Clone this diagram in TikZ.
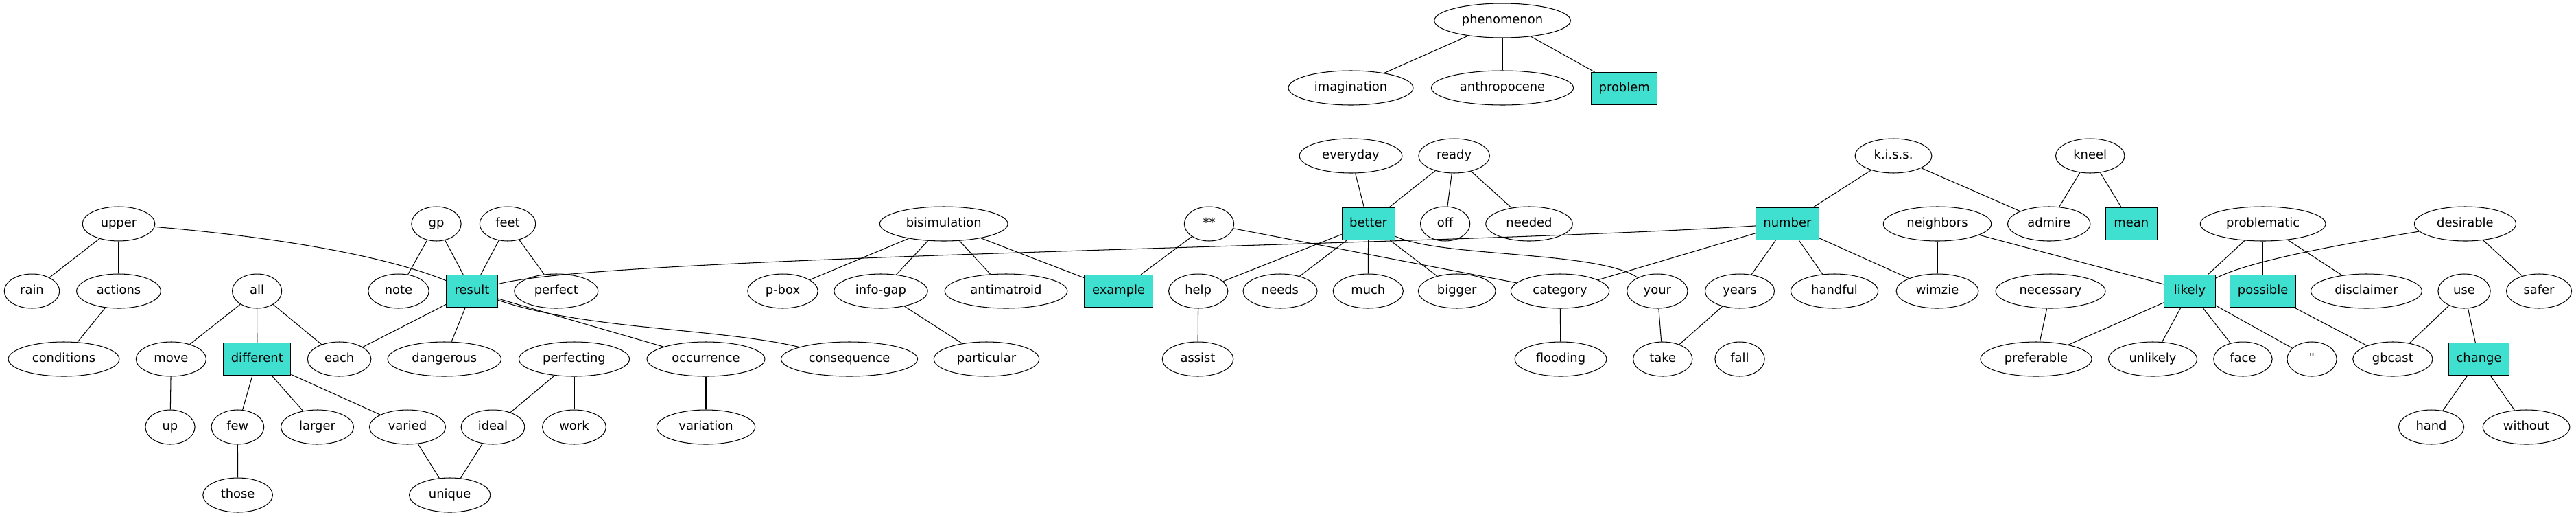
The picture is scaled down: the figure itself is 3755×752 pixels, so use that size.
\documentclass[tikz,border=0pt]{standalone}
\usepackage{fontspec}
\setmainfont{DejaVu Sans}
\usetikzlibrary{shapes.geometric}
\definecolor{keyfill}{HTML}{40E0D0}
\begin{document}
\begin{tikzpicture}[x=0.72pt, y=-0.72pt, line width=0.75pt,
    word/.style={draw, ellipse, inner xsep=8pt, inner ysep=4pt, minimum width=52pt, minimum height=36pt,
      font=\fontsize{12.9}{15}\selectfont, text height=9.4pt, text depth=2.4pt},
    keyword/.style={draw, rectangle, fill=keyfill, inner xsep=8pt, inner ysep=4pt, minimum width=54pt, minimum height=34pt,
      font=\fontsize{12.9}{15}\selectfont, text height=9.4pt, text depth=2.4pt}]
          \useasboundingbox (0,0) rectangle (3755,752);

          % rank 0 to 2
          \node[word] at (2190,30) (phenomenon) {phenomenon};
          \node[word] at (1969,128) (imagination) {imagination};
          \node[word] at (2190,128) (anthropocene) {anthropocene};
          \node[keyword] at (2367.7,129) (problem) {problem};
          \node[word] at (1969,227) (everyday) {everyday};
          \node[word] at (2119.6,227) (ready) {ready};
          \node[word] at (2760,227) (kiss) {k.i.s.s.};
          \node[word] at (3046.7,227) (kneel) {kneel};

          % rank 3
          \node[word] at (173,326) (upper) {upper};
          \node[word] at (636,326) (gp) {gp};
          \node[word] at (740,326) (feet) {feet};
          \node[word] at (1375.7,326) (bisimulation) {bisimulation};
          \node[word] at (1762.5,326) (stars) {**};
          \node[keyword] at (1994.6,326) (better) {better};
          \node[word] at (2106.6,326) (off) {off};
          \node[word] at (2229,326) (needed) {needed};
          \node[keyword] at (2605.4,326) (number) {number};
          \node[word] at (2824,326) (neighbors) {neighbors};
          \node[word] at (2986.7,326) (admire) {admire};
          \node[keyword] at (3106.7,326) (mean) {mean};
          \node[word] at (3298.6,326) (problematic) {problematic};
          \node[word] at (3593.4,326) (desirable) {desirable};

          % rank 4
          \node[word] at (46.5,424) (rain) {rain};
          \node[word] at (173,424) (actions) {actions};
          \node[word] at (374.6,424) (all) {all};
          \node[word] at (581,424) (note) {note};
          \node[keyword] at (688,424) (result) {result};
          \node[word] at (810.8,424) (perfect) {perfect};
          \node[word] at (1141,424) (pbox) {p-box};
          \node[word] at (1284,424) (infogap) {info-gap};
          \node[word] at (1466.5,424) (antimatroid) {antimatroid};
          \node[keyword] at (1630.6,424) (example) {example};
          \node[word] at (1746.7,424) (help) {help};
          \node[word] at (1866,424) (needs) {needs};
          \node[word] at (1994.3,424) (much) {much};
          \node[word] at (2123.7,424) (bigger) {bigger};
          \node[word] at (2274,424) (category) {category};
          \node[word] at (2415.8,424) (your) {your};
          \node[word] at (2536,424) (years) {years};
          \node[word] at (2674,424) (handful) {handful};
          \node[word] at (2824,424) (wimzie) {wimzie};
          \node[word] at (2989,424) (necessary) {necessary};
          \node[keyword] at (3192,424) (likely) {likely};
          \node[keyword] at (3298.6,424) (possible) {possible};
          \node[word] at (3449.4,424) (disclaimer) {disclaimer};
          \node[word] at (3592,424) (use) {use};
          \node[word] at (3701,424) (safer) {safer};

          % rank 5
          \node[word] at (93,523) (conditions) {conditions};
          \node[word] at (249.4,523) (move) {move};
          \node[keyword] at (374.8,523) (different) {different};
          \node[word] at (494.6,523) (each) {each};
          \node[word] at (647.8,523) (dangerous) {dangerous};
          \node[word] at (837,523) (perfecting) {perfecting};
          \node[word] at (1029,523) (occurrence) {occurrence};
          \node[word] at (1238,523) (consequence) {consequence};
          \node[word] at (1438,523) (particular) {particular};
          \node[word] at (1746,523) (assist) {assist};
          \node[word] at (2275,523) (flooding) {flooding};
          \node[word] at (2423.7,523) (take) {take};
          \node[word] at (2536,523) (fall) {fall};
          \node[word] at (2968,523) (preferable) {preferable};
          \node[word] at (3138,523) (unlikely) {unlikely};
          \node[word] at (3269.4,523) (face) {face};
          \node[word] at (3370,523) (quote) {\textquotedbl};
          \node[word] at (3487.8,523) (gbcast) {gbcast};
          \node[keyword] at (3613.5,523) (change) {change};

          % rank 6 and 7
          \node[word] at (248,622) (up) {up};
          \node[word] at (346.4,622) (few) {few};
          \node[word] at (462.5,622) (larger) {larger};
          \node[word] at (594,622) (varied) {varied};
          \node[word] at (718.5,622) (ideal) {ideal};
          \node[word] at (837,622) (work) {work};
          \node[word] at (1029,622) (variation) {variation};
          \node[word] at (3544,622) (hand) {hand};
          \node[word] at (3682.5,622) (without) {without};
          \node[word] at (346.6,721) (those) {those};
          \node[word] at (655.7,721) (unique) {unique};

          \draw[-] (phenomenon) edge (imagination);
          \draw[-] (phenomenon) edge (anthropocene);
          \draw[-] (phenomenon) edge (problem);
          \draw[-] (imagination) edge (everyday);
          \draw[-] (everyday) edge (better);
          \draw[-] (ready) edge (better);
          \draw[-] (ready) edge (off);
          \draw[-] (ready) edge (needed);
          \draw[-] (kiss) edge (number);
          \draw[-] (kiss) edge (admire);
          \draw[-] (kneel) edge (admire);
          \draw[-] (kneel) edge (mean);

          \draw[-] (upper) edge (rain);
          \draw[-] (upper) edge (actions);
          \draw[-] (upper) .. controls (400,345) and (560,372) .. (result);
          \draw[-] (actions) edge (conditions);
          \draw[-] (gp) edge (note);
          \draw[-] (gp) edge (result);
          \draw[-] (feet) edge (result);
          \draw[-] (feet) edge (perfect);
          \draw[-] (all) edge (move);
          \draw[-] (all) edge (different);
          \draw[-] (all) edge (each);
          \draw[-] (result) edge (each);
          \draw[-] (result) edge (dangerous);
          \draw[-] (result) edge (occurrence);
          \draw[-] (result) .. controls (850,480) and (1050,478) .. (consequence);
          \draw[-] (number) .. controls (2100,358) and (880,372) .. (result);
          \draw[-] (move) edge (up);
          \draw[-] (different) edge (few);
          \draw[-] (different) edge (larger);
          \draw[-] (different) edge (varied);
          \draw[-] (few) edge (those);
          \draw[-] (varied) edge (unique);
          \draw[-] (ideal) edge (unique);
          \draw[-] (perfecting) edge (ideal);
          \draw[-] (perfecting) edge (work);
          \draw[-] (occurrence) edge (variation);

          \draw[-] (bisimulation) edge (pbox);
          \draw[-] (bisimulation) edge (infogap);
          \draw[-] (bisimulation) edge (antimatroid);
          \draw[-] (bisimulation) edge (example);
          \draw[-] (infogap) edge (particular);
          \draw[-] (stars) edge (example);
          \draw[-] (stars) edge (category);
          \draw[-] (better) edge (help);
          \draw[-] (better) edge (needs);
          \draw[-] (better) edge (much);
          \draw[-] (better) edge (bigger);
          \draw[-] (better) .. controls (2100,375) and (2330,365) .. (your);
          \draw[-] (help) edge (assist);
          \draw[-] (category) edge (flooding);
          \draw[-] (your) edge (take);
          \draw[-] (years) edge (take);
          \draw[-] (years) edge (fall);

          \draw[-] (number) edge (category);
          \draw[-] (number) edge (years);
          \draw[-] (number) edge (handful);
          \draw[-] (number) edge (wimzie);
          \draw[-] (neighbors) edge (wimzie);
          \draw[-] (neighbors) edge (likely);
          \draw[-] (necessary) edge (preferable);
          \draw[-] (problematic) edge (likely);
          \draw[-] (problematic) edge (possible);
          \draw[-] (problematic) edge (disclaimer);
          \draw[-] (desirable) .. controls (3400,358) and (3280,380) .. (likely);
          \draw[-] (desirable) edge (safer);
          \draw[-] (likely) edge (preferable);
          \draw[-] (likely) edge (unlikely);
          \draw[-] (likely) edge (face);
          \draw[-] (likely) edge (quote);
          \draw[-] (possible) edge (gbcast);
          \draw[-] (use) edge (gbcast);
          \draw[-] (use) edge (change);
          \draw[-] (change) edge (hand);
          \draw[-] (change) edge (without);
        \end{tikzpicture}
\end{document}
